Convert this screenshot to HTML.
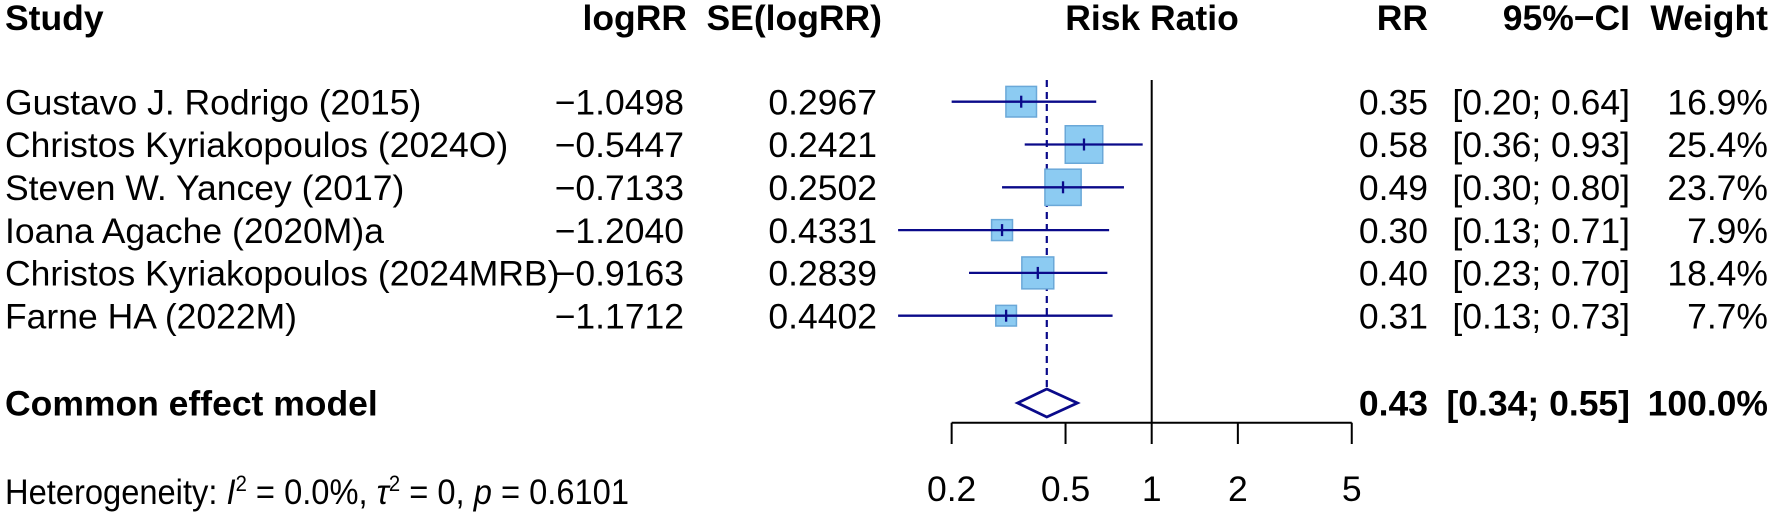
<!DOCTYPE html>
<html><head><meta charset="utf-8"><style>
html,body{margin:0;padding:0;background:#fff;}
svg{display:block;font-family:"Liberation Sans",Arial,sans-serif;}
</style></head><body>
<svg id="plot" width="1772" height="514" viewBox="0 0 1772 514" xmlns="http://www.w3.org/2000/svg">
<g id="hdr" font-weight="bold" font-size="35.5" fill="#000">
<text x="5" y="30">Study</text>
<text x="687" y="30" text-anchor="end">logRR</text>
<text x="882" y="30" text-anchor="end">SE(logRR)</text>
<text x="1152" y="30" text-anchor="middle">Risk Ratio</text>
<text x="1428" y="30" text-anchor="end">RR</text>
<text x="1630" y="30" text-anchor="end">95%−CI</text>
<text x="1768" y="30" text-anchor="end">Weight</text>
</g>
<g id="rows" font-size="35.5" fill="#000"></g>
<g id="marks"></g>
<g id="axis"></g>
<text x="5" y="504" font-size="35.5" fill="#000" textLength="624" lengthAdjust="spacingAndGlyphs">Heterogeneity: <tspan font-style="italic">I</tspan><tspan font-size="22" dy="-13">2</tspan><tspan dy="13"> = 0.0%,  </tspan><tspan font-style="italic">τ</tspan><tspan font-size="22" dy="-13">2</tspan><tspan dy="13"> = 0, </tspan><tspan font-style="italic">p</tspan> = 0.6101</text>
</svg>
<script>
const studies = ["Gustavo J. Rodrigo (2015)","Christos Kyriakopoulos (2024O)","Steven W. Yancey (2017)","Ioana Agache (2020M)a","Christos Kyriakopoulos (2024MRB)","Farne HA (2022M)"];
const logRR = ["−1.0498","−0.5447","−0.7133","−1.2040","−0.9163","−1.1712"];
const seLogRR = ["0.2967","0.2421","0.2502","0.4331","0.2839","0.4402"];
const rr = [0.35,0.58,0.49,0.30,0.40,0.31];
const ciLow = [0.20,0.36,0.30,0.13,0.23,0.13];
const ciHigh = [0.64,0.93,0.80,0.71,0.70,0.73];
const weights = [16.9,25.4,23.7,7.9,18.4,7.7];
const pooled = [0.43,0.34,0.55];
const ticks = [0.2,0.5,1,2,5];
const tickLabels = ["0.2","0.5","1","2","5"];

const NS="http://www.w3.org/2000/svg";
const X0=1151.7, PX=124.3;
function xs(v){return X0+Math.log(v)*PX;}
function ys(i){return 101.7+i*42.8;}
function mk(tag,attrs,parent,txt){const e=document.createElementNS(NS,tag);for(const k in attrs)e.setAttribute(k,attrs[k]);if(txt!==undefined)e.textContent=txt;parent.appendChild(e);return e;}
const rows=document.getElementById('rows'), marks=document.getElementById('marks'), axis=document.getElementById('axis');
const f2=v=>v.toFixed(2);
studies.forEach((s,i)=>{
  const by=ys(i)+12.7;
  let t=mk('text',{x:5,y:by},rows,s);
  
  
  t=mk('text',{x:684,y:by,'text-anchor':'end'},rows,logRR[i]);
  
  
  t=mk('text',{x:877,y:by,'text-anchor':'end'},rows,seLogRR[i]);
  
  
  t=mk('text',{x:1428,y:by,'text-anchor':'end'},rows,f2(rr[i]));
  
  
  t=mk('text',{x:1630,y:by,'text-anchor':'end'},rows,'['+f2(ciLow[i])+'; '+f2(ciHigh[i])+']');
  
  
  t=mk('text',{x:1768,y:by,'text-anchor':'end'},rows,weights[i].toFixed(1)+'%');
  
  
});
const my=ys(0)+ (403-101.7);
[["Common effect model",5,'start'],[f2(pooled[0]),1428,'end'],['['+f2(pooled[1])+'; '+f2(pooled[2])+']',1630,'end'],['100.0%',1768,'end']].forEach(a=>{
  const t=mk('text',{x:a[1],y:my+12.7,'text-anchor':a[2],'font-weight':'bold'},rows,a[0]);
  
  
});
let l=mk('line',{x1:xs(1),x2:xs(1),y1:80,y2:422.7,stroke:'#000','stroke-width':2},marks);


const dy=my;
l=mk('line',{x1:xs(pooled[0]),x2:xs(pooled[0]),y1:80,y2:dy-14,stroke:'#0a0a8a','stroke-width':2.2,'stroke-dasharray':'7,5'},marks);


studies.forEach((s,i)=>{
  const y=ys(i), cx=xs(rr[i]), side=7.44*Math.sqrt(weights[i]);
  const r=mk('rect',{x:cx-side/2,y:y-side/2,width:side,height:side,fill:'#8ccbf2',stroke:'#6aa8d8','stroke-width':1.5},marks);
  
  
  const c=mk('line',{x1:xs(ciLow[i]),x2:xs(ciHigh[i]),y1:y,y2:y,stroke:'#0a0a8a','stroke-width':2.3},marks);
  
  
  const p=mk('line',{x1:cx,x2:cx,y1:y-6,y2:y+6,stroke:'#0a0a8a','stroke-width':2.3},marks);
  
  
});
const d=mk('polygon',{points:`${xs(pooled[1])},${dy} ${xs(pooled[0])},${dy-14} ${xs(pooled[2])},${dy} ${xs(pooled[0])},${dy+14}`,fill:'none',stroke:'#0a0a8a','stroke-width':2.8},marks);


l=mk('line',{x1:xs(ticks[0]),x2:xs(ticks[ticks.length-1]),y1:422.7,y2:422.7,stroke:'#000','stroke-width':2},axis);


ticks.forEach((t,i)=>{
  const tk=mk('line',{x1:xs(t),x2:xs(t),y1:422.7,y2:444,stroke:'#000','stroke-width':2},axis);
  
  
  const tl=mk('text',{x:xs(t),y:501,'text-anchor':'middle','font-size':35.5,fill:'#000'},axis,tickLabels[i]);
  
  
});
</script>
</body></html>
